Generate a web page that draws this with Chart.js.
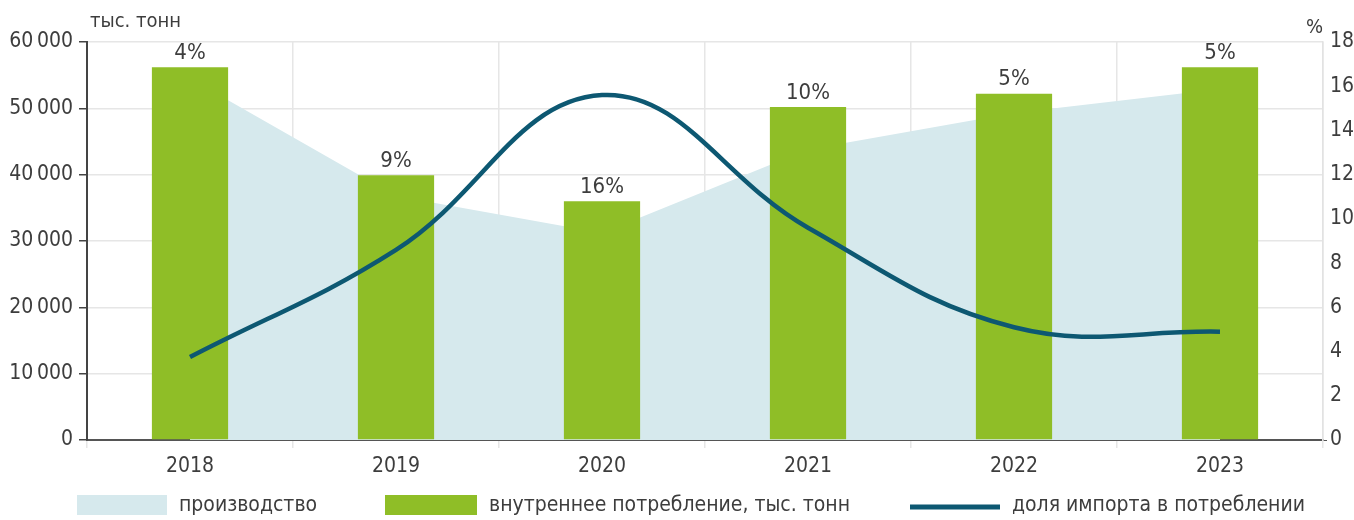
<!DOCTYPE html>
<html>
<head>
<meta charset="utf-8">
<script src="https://cdn.jsdelivr.net/npm/chart.js@4"></script>
<style>
  html, body { margin: 0; padding: 0; background: #fff; }
  #wrap { width: 1354px; height: 520px; position: relative; }
</style>
</head>
<body>
<div id="wrap"><canvas id="c" width="1354" height="520"></canvas></div>
<script>
// ---- data ----
const categories = ['2018', '2019', '2020', '2021', '2022', '2023'];
const production = [54500, 36800, 31200, 43800, 49300, 52900];      // производство, тыс. тонн (area)
const consumption = [56200, 39900, 36000, 50200, 52200, 56200];     // внутреннее потребление, тыс. тонн (bars)
const importShare = [3.75, 8.6, 15.6, 9.6, 5.1, 4.9];               // доля импорта, %
const barLabels = ['4%', '9%', '16%', '10%', '5%', '5%'];
const seriesNames = ['производство', 'внутреннее потребление, тыс. тонн', 'доля импорта в потреблении'];
const leftTicks = [0, 10000, 20000, 30000, 40000, 50000, 60000];
const rightTicks = [0, 2, 4, 6, 8, 10, 12, 14, 16, 18];
const leftTitle = 'тыс. тонн';
const rightTitle = '%';

const FONT = "'DejaVu Sans Condensed', 'Liberation Sans Narrow', sans-serif";
const TXT = '#3d3d3d';
const C_AREA = '#d6e9ed', C_BAR = '#8fbe27', C_LINE = '#0d5872';

const fmt = v => String(v).replace(/\B(?=(\d{3})+(?!\d))/g, '\u2009');

const extras = {
  id: 'extras',
  afterDatasetsDraw(chart) {
    const ctx = chart.ctx;
    const meta = chart.getDatasetMeta(1);
    ctx.save();
    ctx.fillStyle = TXT;
    ctx.font = '22px ' + FONT;
    ctx.textAlign = 'center';
    ctx.textBaseline = 'bottom';
    meta.data.forEach((bar, i) => {
      ctx.fillText(barLabels[i], bar.x, bar.y - 3);
    });
    ctx.restore();
  },
  afterDraw(chart) {
    const ctx = chart.ctx;
    const ca = chart.chartArea;
    ctx.save();
    ctx.fillStyle = TXT;
    ctx.font = '20px ' + FONT;
    ctx.textBaseline = 'middle';
    ctx.textAlign = 'left';
    ctx.fillText(leftTitle, ca.left + 3, 22);
    ctx.textAlign = 'right';
    ctx.fillText(rightTitle, ca.right, 28);
    // legend
    ctx.font = '21px ' + FONT;
    ctx.textAlign = 'left';
    const ly = 506;
    ctx.fillStyle = C_AREA;
    ctx.fillRect(77, 495, 90, 20);
    ctx.fillStyle = TXT;
    ctx.fillText(seriesNames[0], 179, ly);
    ctx.fillStyle = C_BAR;
    ctx.fillRect(385, 495, 92, 20);
    ctx.fillStyle = TXT;
    ctx.fillText(seriesNames[1], 489, ly);
    ctx.strokeStyle = C_LINE;
    ctx.lineWidth = 5;
    ctx.beginPath();
    ctx.moveTo(910, 507);
    ctx.lineTo(1000, 507);
    ctx.stroke();
    ctx.fillStyle = TXT;
    ctx.fillText(seriesNames[2], 1012, ly);
    ctx.restore();
  }
};

new Chart(document.getElementById('c'), {
  type: 'bar',
  data: {
    labels: categories,
    datasets: [
      {
        type: 'line', label: seriesNames[0], data: production, yAxisID: 'y',
        fill: 'origin', backgroundColor: C_AREA, borderWidth: 0, borderColor: 'rgba(0,0,0,0)',
        pointRadius: 0, tension: 0, order: 3
      },
      {
        type: 'bar', label: seriesNames[1], data: consumption, yAxisID: 'y',
        backgroundColor: C_BAR, barPercentage: 0.37, categoryPercentage: 1.0, order: 2
      },
      {
        type: 'line', label: seriesNames[2], data: importShare, yAxisID: 'y1',
        borderColor: C_LINE, borderWidth: 4.5, fill: false, pointRadius: 0,
        tension: 0.4, order: 1
      }
    ]
  },
  options: {
    responsive: false,
    animation: false,
    layout: { padding: { top: 42, right: 0, left: 0, bottom: 0 } },
    plugins: { legend: { display: false }, tooltip: { enabled: false } },
    scales: {
      x: {
        offset: true,
        grid: { display: true, offset: true, color: '#e6e6e6', lineWidth: 1.5, tickLength: 8, tickColor: '#e6e6e6' },
        border: { display: true, color: '#555', width: 2 },
        ticks: { color: TXT, font: { family: FONT, size: 21 }, padding: 6, maxRotation: 0 },
        afterFit(s) { s.height = 80; }
      },
      y: {
        position: 'left', min: 0, max: 60000,
        afterBuildTicks(s) { s.ticks = leftTicks.map(v => ({ value: v })); },
        grid: { color: '#e6e6e6', lineWidth: 1.5, tickLength: 8, tickColor: '#444' },
        border: { display: true, color: '#444', width: 2 },
        ticks: { color: TXT, font: { family: FONT, size: 21 }, padding: 6, callback: v => fmt(v) },
        afterFit(s) { s.width = 87; }
      },
      y1: {
        position: 'right', min: 0, max: 18,
        afterBuildTicks(s) { s.ticks = rightTicks.map(v => ({ value: v })); },
        grid: { drawOnChartArea: false, tickLength: 4, tickColor: ctx => ctx.tick && ctx.tick.value === 0 ? '#555' : 'rgba(0,0,0,0)' },
        border: { display: true, color: '#e2e2e2', width: 1.5 },
        ticks: { color: TXT, font: { family: FONT, size: 21 }, padding: 3 },
        afterFit(s) { s.width = 31; }
      }
    }
  },
  plugins: [extras]
});
</script>
</body>
</html>
